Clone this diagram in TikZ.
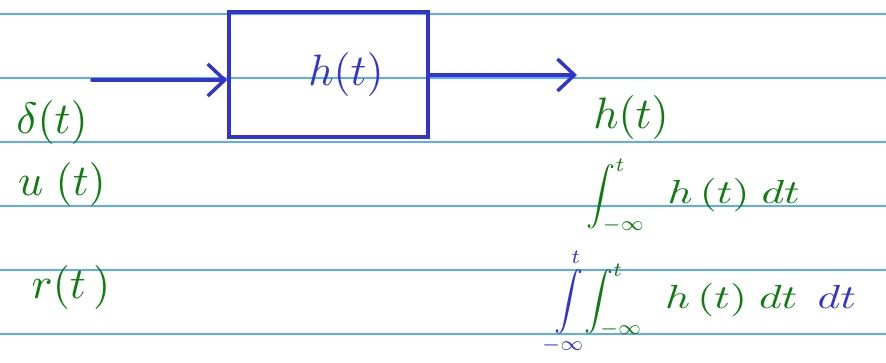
\documentclass[tikz,border=0pt]{standalone}
\usepackage{amsmath}
\usetikzlibrary{arrows.meta}
\definecolor{penblue}{RGB}{52,52,204}
\definecolor{pengreen}{RGB}{16,124,16}
\definecolor{rulecol}{RGB}{90,170,255}
\newcommand{\wideterm}[1]{\scalebox{1.5}[1.15]{$#1$}}
\begin{document}
\begin{tikzpicture}[x=1pt,y=-1pt,
  rule/.style={draw=rulecol,line width=1.5pt},
  pen/.style={draw=penblue,line width=3.5pt,line cap=round},
  arr/.style={pen,-{Straight Barb[length=17pt,width=32pt,line width=3.5pt]}},
  gtxt/.style={text=pengreen,inner sep=0pt,scale=4.4,transform shape},
  btxt/.style={text=penblue,inner sep=0pt,scale=4.4,transform shape},
  itxt/.style={inner sep=0pt,scale=2.9,transform shape}]
\useasboundingbox (0,0) rectangle (886,362);
\fill[white] (0,0) rectangle (886,362);
\foreach \y in {14,78,142,206,270,334} \draw[rule] (0,\y) -- (886,\y);
% block
\node[pen,minimum width=199pt,minimum height=125pt,inner sep=0pt] (box) at (328.5,74.5) {};
\node[btxt] (hbox) at (346,74) {$h(t)$};
\coordinate (in) at (92,80);
\coordinate (out) at (577,75);
\draw[arr] (in) -- (in -| box.west);
\draw[arr] (out -| box.east) -- (out);
% inputs
\node[gtxt] (delta) at (52,122) {$\delta(t)$};
\node[gtxt] (unit) at (62,184) {$u\;(t)$};
\node[gtxt] (ramp) at (71,287) {$r(t\,)$};
% outputs
\node[gtxt] (hout) at (631,117) {$h(t)$};
\node[itxt,anchor=west,text=pengreen] (int1) at (586,196) {$\displaystyle\int_{-\infty}^{t}\hspace{6pt}\wideterm{h\,(t)\;dt}$};
\node[itxt,anchor=west] (int2) at (548,302) {$\displaystyle{\color{penblue}\int\limits_{-\infty}^{t}}\hspace{-2pt}{\color{pengreen}\int_{-\infty}^{t}\hspace{6pt}\wideterm{h\,(t)\;dt}}\hspace{7pt}{\color{penblue}\wideterm{dt}}$};
\end{tikzpicture}
\end{document}
